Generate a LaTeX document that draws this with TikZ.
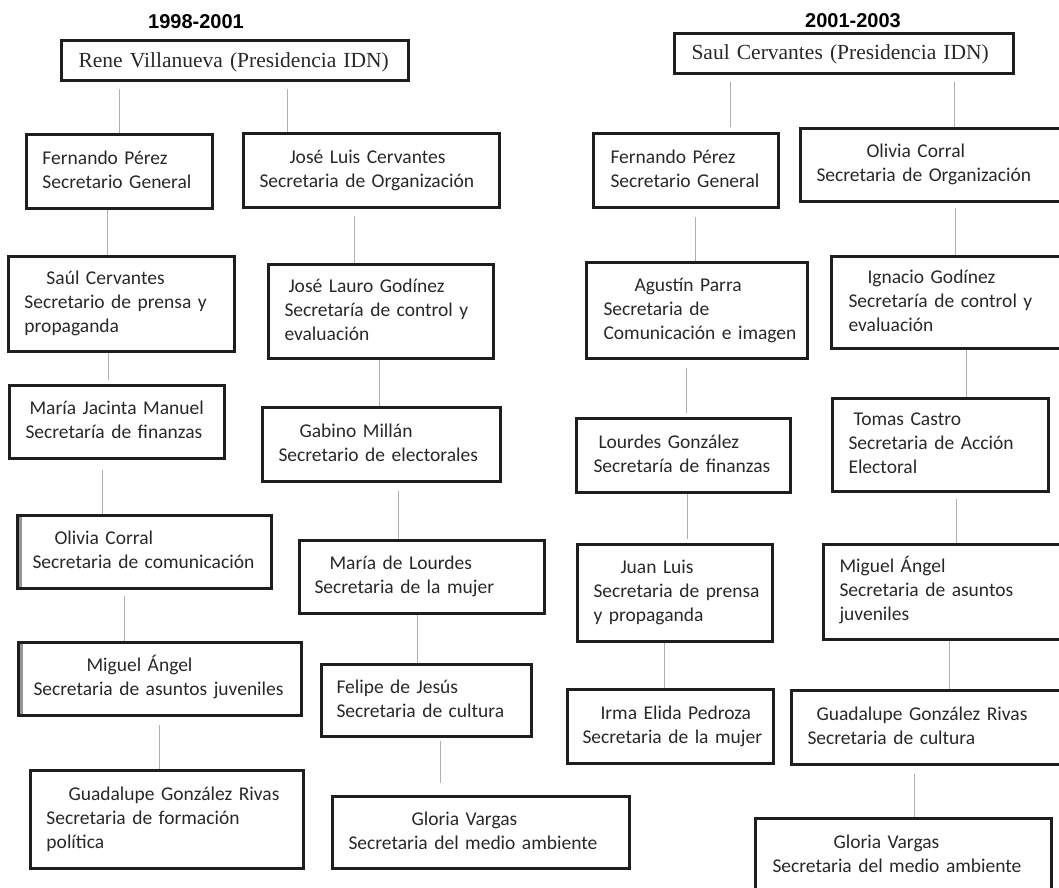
\documentclass[tikz,border=0pt]{standalone}
\usepackage{fontspec}
\setmainfont{Carlito}
\newfontfamily\tiempos{Liberation Serif}
\newfontfamily\arial{Liberation Sans}
\definecolor{tinta}{RGB}{40, 40, 40}
\definecolor{borde}{RGB}{30, 30, 30}
\definecolor{guia}{RGB}{175, 175, 175}
\definecolor{sombra}{RGB}{150, 150, 150}

\begin{document}
\begin{tikzpicture}[x=1pt, y=-1pt,
    cargo/.style={draw=borde, line width=3pt, anchor=north west, inner sep=0pt,
      align=left, text=tinta, font=\fontsize{19.5pt}{24pt}\selectfont},
    caja/.style n args={3}{minimum width=#1pt, text width=#1pt, minimum height=#2pt,
      execute at begin node={\leftskip=#3pt\strut}, execute at end node={\strut}},
    presi/.style={font=\tiempos\fontsize{21.5pt}{26pt}\selectfont},
    gris/.style={path picture={\fill[sombra] (path picture bounding box.north west)
      rectangle ([xshift=4pt]path picture bounding box.south west);}},
    titulo/.style={font=\arial\bfseries\fontsize{20pt}{24pt}\selectfont, inner sep=0pt},
    linea/.style={draw=guia, line width=0.9pt}]
  \useasboundingbox (0,0) rectangle (1059,887);

  % Periods
  \node[titulo] (per1) at (196,22) {1998-2001};
  \node[titulo] (per2) at (853,21) {2001-2003};

  % 1998-2001
  \node[cargo, presi, caja={347}{40}{17}] (rene) at (60,39) {\raisebox{-2pt}{Rene Villanueva (Presidencia IDN)}};
  \node[cargo, caja={186}{74}{16}] (ferL) at (25,133) {Fernando Pérez\\Secretario General};
  \node[cargo, caja={256}{74}{16}] (jlc) at (242,132) {\hspace*{30pt}José Luis Cervantes\\Secretaria de Organización};
  \node[cargo, caja={226}{95}{16}] (saul) at (7,255) {\hspace*{22pt}Saúl Cervantes\\Secretario de prensa y\\propaganda};
  \node[cargo, caja={225}{94}{16}] (jlauro) at (267,263) {\hspace*{4pt}José Lauro Godínez\\Secretaría de control y\\evaluación};
  \node[cargo, caja={215}{73}{16}] (mjm) at (8,384) {\hspace*{4pt}María Jacinta Manuel\\Secretaría de finanzas};
  \node[cargo, caja={238}{74}{16}] (gabino) at (261,406) {\hspace*{21pt}Gabino Millán\\Secretario de electorales};
  \node[cargo, gris, caja={254}{73}{15}] (oliL) at (16,514) {\hspace*{22pt}Olivia Corral\\Secretaria de comunicación};
  \node[cargo, caja={245}{73}{15}] (mdl) at (298,539) {\hspace*{15pt}María de Lourdes\\Secretaria de la mujer};
  \node[cargo, gris, caja={283}{73}{15}] (migL) at (17,641) {\hspace*{53pt}Miguel Ángel\\Secretaria de asuntos juveniles};
  \node[cargo, caja={210}{72}{15}] (felipe) at (320,663) {Felipe de Jesús\\Secretaria de cultura};
  \node[cargo, caja={273}{98}{16}] (guadL) at (29,769) {\hspace*{22pt}Guadalupe González Rivas\\Secretaria de formación\\política};
  \node[cargo, caja={297}{72}{16}] (gloL) at (331,795) {\hspace*{63pt}Gloria Vargas\\Secretaria del medio ambiente};

  % 2001-2003
  \node[cargo, presi, caja={339}{40}{17}] (saulP) at (673,32) {\raisebox{-1pt}{Saul Cervantes (Presidencia IDN)}};
  \node[cargo, caja={185}{74}{17}] (ferR) at (592,132) {Fernando Pérez\\Secretario General};
  \node[cargo, caja={265}{73}{16}] (oliR) at (799,127) {\hspace*{50pt}Olivia Corral\\Secretaria de Organización};
  \node[cargo, caja={221}{96}{17}] (agus) at (585,261) {\hspace*{31pt}Agustín Parra\\Secretaria de\\Comunicación e imagen};
  \node[cargo, caja={234}{92}{17}] (ign) at (830,255) {\hspace*{19pt}Ignacio Godínez\\Secretaría de control y\\evaluación};
  \node[cargo, caja={214}{74}{17}] (lour) at (575,417) {\hspace*{5pt}Lourdes González\\Secretaría de finanzas};
  \node[cargo, caja={216}{93}{16}] (tomas) at (831,397) {\hspace*{5pt}Tomas Castro\\Secretaria de Acción\\Electoral};
  \node[cargo, caja={195}{97}{16}] (juan) at (576,543) {\hspace*{27pt}Juan Luis\\Secretaria de prensa\\y propaganda};
  \node[cargo, caja={242}{95}{16}] (migR) at (822,543) {Miguel Ángel\\Secretaria de asuntos\\juveniles};
  \node[cargo, caja={206}{74}{15}] (irma) at (566,688) {\hspace*{18pt}Irma Elida Pedroza\\Secretaria de la mujer};
  \node[cargo, caja={274}{74}{16}] (guadR) at (790,689) {\hspace*{9pt}Guadalupe González Rivas\\Secretaria de cultura};
  \node[cargo, caja={296}{75}{17}] (gloR) at (754,817) {\hspace*{61pt}Gloria Vargas\\Secretaria del medio ambiente};

  % Links 1998-2001
  \draw[linea, shorten <=7pt] (rene.south -| 119,0) -- (ferL.north -| 119,0);
  \draw[linea, shorten <=7pt] (rene.south -| 287,0) -- (jlc.north -| 287,0);
  \draw[linea] (ferL.south -| 107,0) -- (saul.north -| 107,0);
  \draw[linea, shorten <=7pt] (jlc.south -| 354,0) -- (jlauro.north -| 354,0);
  \draw[linea, shorten >=4pt] (saul.south -| 108,0) -- (mjm.north -| 108,0);
  \draw[linea] (jlauro.south -| 379,0) -- (gabino.north -| 379,0);
  \draw[linea, shorten <=10pt] (mjm.south -| 102,0) -- (oliL.north -| 102,0);
  \draw[linea, shorten <=8pt] (gabino.south -| 398,0) -- (mdl.north -| 398,0);
  \draw[linea, shorten <=6pt] (oliL.south -| 124,0) -- (migL.north -| 124,0);
  \draw[linea] (mdl.south -| 417,0) -- (felipe.north -| 417,0);
  \draw[linea, shorten <=8pt] (migL.south -| 159,0) -- (guadL.north -| 159,0);
  \draw[linea, shorten <=3pt, shorten >=12pt] (felipe.south -| 440,0) -- (gloL.north -| 440,0);

  % Links 2001-2003
  \draw[linea, shorten <=7pt, shorten >=5pt] (saulP.south -| 730,0) -- (ferR.north -| 730,0);
  \draw[linea, shorten <=7pt] (saulP.south -| 954,0) -- (oliR.north -| 954,0);
  \draw[linea, shorten <=8pt] (ferR.south -| 695,0) -- (agus.north -| 695,0);
  \draw[linea, shorten <=5pt] (oliR.south -| 955,0) -- (ign.north -| 955,0);
  \draw[linea, shorten <=8pt, shorten >=4pt] (agus.south -| 686,0) -- (lour.north -| 686,0);
  \draw[linea] (ign.south -| 966,0) -- (tomas.north -| 966,0);
  \draw[linea, shorten >=4pt] (lour.south -| 687,0) -- (juan.north -| 687,0);
  \draw[linea, shorten <=6pt] (tomas.south -| 956,0) -- (migR.north -| 956,0);
  \draw[linea] (juan.south -| 664,0) -- (irma.north -| 664,0);
  \draw[linea] (migR.south -| 949,0) -- (guadR.north -| 949,0);
  \draw[linea, shorten <=8pt] (guadR.south -| 914,0) -- (gloR.north -| 914,0);
\end{tikzpicture}
\end{document}
